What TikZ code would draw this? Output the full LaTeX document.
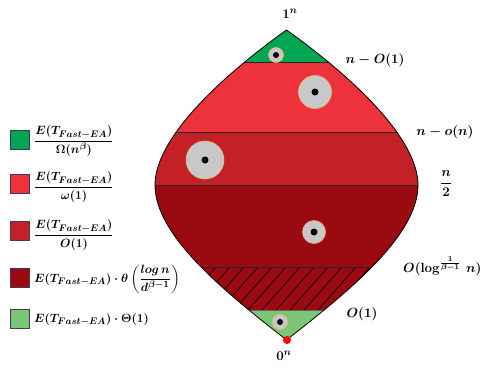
\RequirePackage{fix-cm}
\documentclass[tikz,border=0pt]{standalone}
\usepackage{amsmath}
\DeclareMathSizes{12}{12}{9.5}{7.5}
\DeclareMathSizes{13.3}{13.3}{10}{7.5}
\definecolor{cGreen}{RGB}{0,166,81}
\definecolor{cRed}{RGB}{238,50,60}
\definecolor{cMid}{RGB}{196,32,40}
\definecolor{cDark}{RGB}{155,10,16}
\definecolor{cLight}{RGB}{124,197,118}
\definecolor{cGray}{RGB}{200,200,200}
\definecolor{cRim}{RGB}{232,184,110}
\definecolor{cBorder}{RGB}{60,60,90}
\begin{document}
\begin{tikzpicture}[x=1pt,y=-1pt,
  disk/.style={circle,fill=cGray,draw=cRim,line width=0.6pt,inner sep=0pt},
  pin/.style={circle,fill=black,inner sep=0pt,minimum size=6pt},
  sq/.style={draw=cBorder,line width=0.5pt,minimum size=19pt,inner sep=0pt},
  lbl/.style={font=\fontsize{12}{14}\selectfont\boldmath,inner sep=1pt},
  tag/.style={font=\fontsize{13.3}{16}\selectfont\boldmath,inner sep=1pt},
  band/.style={line width=0.7pt,black!85}]
\useasboundingbox (0,0) rectangle (482,367);
\def\outline{(286.5,30) .. controls (216.5,80) and (155,140) .. (155,185) .. controls (155,235) and (222.5,290) .. (286.5,340) .. controls (350.5,290) and (418,235) .. (418,185) .. controls (418,140) and (356.5,80) .. (286.5,30) -- cycle}
\begin{scope}
  \clip \outline;
  \fill[cGreen] (100,0) rectangle (480,62);
  \fill[cRed] (100,62) rectangle (480,132);
  \fill[cMid] (100,132) rectangle (480,185);
  \fill[cDark] (100,185) rectangle (480,310);
  \fill[cLight] (100,310) rectangle (480,345);
  \begin{scope}
    \clip (100,267) rectangle (480,310);
    \foreach \x in {150,164,...,400} \draw[line width=0.6pt] (\x,310) -- ++(38,-43);
  \end{scope}
  \draw[band] (100,62) -- (480,62);
  \draw[band] (100,132) -- (480,132);
  \draw[band] (100,185) -- (480,185);
  \draw[band] (100,267) -- (480,267);
  \draw[line width=0.4pt,black!60] (100,310) -- (480,310);
\end{scope}
\draw[line width=0.8pt] \outline;
% particles
\node[disk,minimum size=15pt] (c1) at (276,55) {};
\node[pin] (d1) at (c1.center) {};
\node[disk,minimum size=33pt] (c2) at (315,92) {};
\node[pin,minimum size=7pt] (d2) at (c2.center) {};
\node[disk,minimum size=38pt] (c3) at (205,160) {};
\node[pin,minimum size=7pt] (d3) at (c3.center) {};
\node[disk,minimum size=23pt] (c4) at (314,232) {};
\node[pin,minimum size=7pt] (d4) at (c4.center) {};
\node[disk,minimum size=15pt] (c5) at (280,322) {};
\node[pin] (d5) at (c5.center) {};
\node[circle,fill=red,inner sep=0pt,minimum size=8pt] (zero) at (287,340) {};
% right labels
\node[tag] (l1) at (290,14) {$1^n$};
\node[tag] (l2) at (375,60) {$n-O(1)$};
\node[tag] (l3) at (445,132) {$n-o(n)$};
\node[tag] (l4) at (446,184) {$\dfrac{n}{2}$};
\node[tag,anchor=west] (l5) at (402,266) {$O(\log^{\frac{1}{\beta-1}}\,n)$};
\node[tag] (l6) at (362,314) {$O(1)$};
\node[tag] (l7) at (284,356) {$0^n$};
% legend
\node[sq,fill=cGreen] (s1) at (20,140) {};
\node[lbl,anchor=west] (t1) at (33,141) {$\dfrac{E(T_{Fast-EA})}{\Omega(n^{\beta})}$};
\node[sq,fill=cRed] (s2) at (20,184) {};
\node[lbl,anchor=west] (t2) at (33,187) {$\dfrac{E(T_{Fast-EA})}{\omega(1)}$};
\node[sq,fill=cMid] (s3) at (20,231) {};
\node[lbl,anchor=west] (t3) at (33,235) {$\dfrac{E(T_{Fast-EA})}{O(1)}$};
\node[sq,fill=cDark] (s4) at (20,278) {};
\node[lbl,anchor=west] (t4) at (33,279) {$E(T_{Fast-EA})\cdot\theta\left(\dfrac{log\,n}{d^{\beta-1}}\right)$};
\node[sq,fill=cLight] (s5) at (20,319) {};
\node[lbl,anchor=west] (t5) at (33,320) {$E(T_{Fast-EA})\cdot\Theta(1)$};
\end{tikzpicture}
\end{document}
